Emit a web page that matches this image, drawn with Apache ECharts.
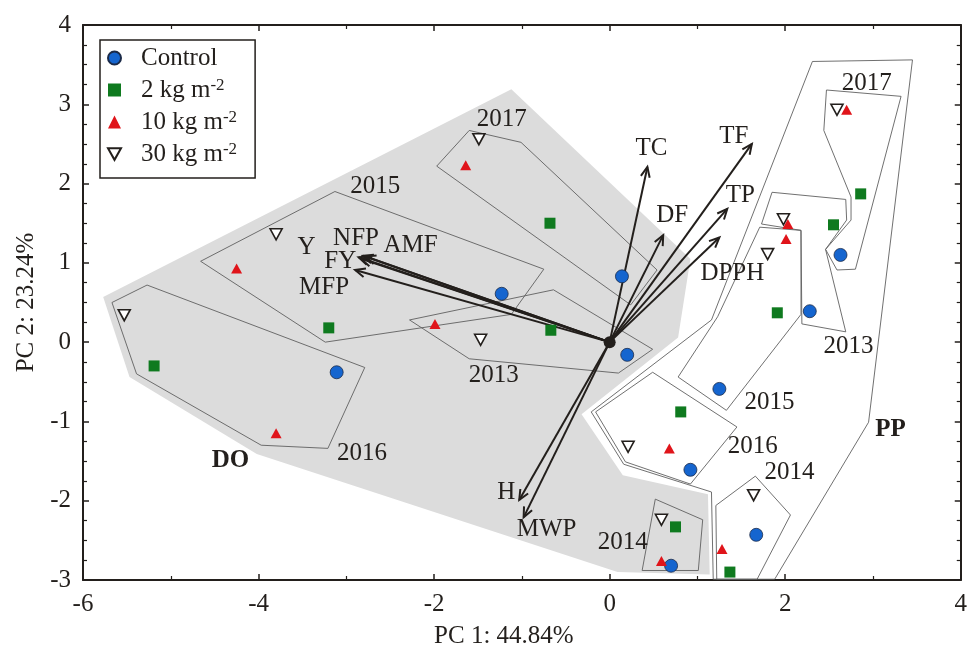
<!DOCTYPE html>
<html>
<head>
<meta charset="utf-8">
<script src="https://cdn.jsdelivr.net/npm/echarts@6/dist/echarts.min.js"></script>
<style>
  html, body { margin: 0; padding: 0; background: #fff; }
  #chart { width: 970px; height: 658px; }
</style>
</head>
<body>
<div id="chart"></div>
<script>
// PCA scores, one list per compost dose
const controlPts = [[0.14, 0.83], [-1.23, 0.61], [0.20, -0.16], [-3.11, -0.38], [2.28, 0.39],
  [2.63, 1.10], [1.25, -0.59], [0.92, -1.61], [1.67, -2.43], [0.70, -2.82]]
const dose2Pts = [[-0.68, 1.50], [-0.67, 0.15], [-3.20, 0.18], [-5.19, -0.30], [2.86, 1.87],
  [2.55, 1.48], [1.91, 0.37], [0.81, -0.88], [0.75, -2.33], [1.37, -2.90]]
const dose10Pts = [[-1.64, 2.23], [-4.25, 0.93], [-1.99, 0.23], [-3.80, -1.15], [2.70, 2.93],
  [2.03, 1.49], [2.01, 1.30], [0.68, -1.34], [0.59, -2.76], [1.28, -2.61]]
const dose30Pts = [[-1.49, 2.56], [-3.80, 1.36], [-5.53, 0.34], [-1.47, 0.03], [2.59, 2.93],
  [1.98, 1.55], [1.80, 1.11], [0.21, -1.32], [0.59, -2.24], [1.64, -1.93]]

// loadings (variable vectors)
const loadNames = ['TC', 'DF', 'TF', 'TP', 'DPPH', 'Y', 'NFP', 'AMF', 'FY', 'MFP', 'H', 'MWP']
const loadX = [0.43, 0.61, 1.62, 1.34, 1.25, -2.86, -2.81, -2.78, -2.83, -2.90, -1.03, -0.98]
const loadY = [2.21, 1.35, 2.50, 1.68, 1.32, 1.07, 1.09, 1.08, 1.05, 0.91, -1.99, -2.21]

// hulls
const hullDO = [[-5.77, 0.57], [-1.12, 3.19], [0.92, 1.05], [0.78, 0.06], [-0.32, -0.91], [0.15, -1.68],
  [1.12, -1.92], [1.14, -2.93], [0.09, -2.90], [-4.02, -1.41], [-5.47, -0.44]]
const hullPP = [[2.31, 3.54], [3.45, 3.56], [2.95, -1.01], [1.88, -2.99], [1.18, -2.99], [1.16, -1.89],
  [0.16, -1.54], [-0.21, -0.88], [1.16, 0.28]]
const yearHulls = [
  [[-1.60, 2.67], [-1.01, 2.52], [0.54, 0.91], [0.24, 0.47], [-1.97, 2.22]],
  [[-3.13, 1.90], [-0.75, 0.92], [-1.12, 0.35], [-3.24, 0.0], [-4.66, 1.02]],
  [[-2.28, 0.28], [-0.64, 0.66], [0.49, -0.09], [0.10, -0.39], [-1.60, -0.21]],
  [[-5.27, 0.72], [-2.79, -0.32], [-3.21, -1.34], [-3.97, -1.30], [-5.39, -0.40], [-5.67, 0.50]],
  [[0.52, -1.98], [1.06, -2.24], [1.01, -2.88], [0.37, -2.88]],
  [[0.49, -0.38], [1.45, -1.07], [0.92, -1.79], [0.18, -1.51], [-0.16, -0.88]],
  [[1.66, -1.69], [2.06, -2.18], [1.68, -2.99], [1.22, -2.99], [1.21, -2.06]],
  [[1.71, 1.45], [2.18, 1.41], [2.18, 0.35], [1.33, -0.86], [0.78, -0.44], [1.23, 0.32]],
  [[1.85, 1.89], [2.69, 1.80], [2.70, 1.54], [2.46, 1.17], [2.69, 0.13], [2.19, 0.23], [2.18, 1.41], [1.73, 1.49]],
  [[2.47, 3.18], [3.32, 3.10], [2.80, 0.92], [2.59, 0.91], [2.46, 1.17], [2.75, 1.54], [2.75, 1.83], [2.44, 2.67]]
]

// group labels
const groupText = ['2017', '2015', '2013', '2016', '2014', 'DO', '2017', '2013', '2015', '2016', '2014', 'PP']
const groupX = [-1.23, -2.67, -1.32, -2.82, 0.15, -4.32, 2.93, 2.72, 1.82, 1.63, 2.05, 3.20]
const groupY = [2.81, 1.97, -0.42, -1.41, -2.52, -1.49, 3.26, -0.06, -0.76, -1.32, -1.64, -1.10]

const FONT = '"Liberation Serif", "Times New Roman", serif'
const FS = 25
const INK = '#231f1c'
const HULL_LINE = '#606060'
// label offset from arrow tip, px
const loadLabelOffset = {
  TC: [4, -18], DF: [9, -20], TF: [-18, -7], TP: [13, -14], DPPH: [13, 36],
  Y: [-52, -10], NFP: [-7, -17], AMF: [45, -11], FY: [-21, 3], MFP: [-31, 17],
  H: [-13, -7], MWP: [23, 12]
}

const myChart = echarts.init(document.getElementById('chart'))

function polyItem(pts, api, style) {
  return {
    type: 'polygon',
    shape: { points: pts.map(p => api.coord(p)) },
    style: style
  }
}

const xAxisBase = {
  type: 'value', min: -6, max: 4, interval: 2,
  axisLine: { onZero: false, lineStyle: { color: INK, width: 2 } },
  axisTick: { inside: true, length: 6, lineStyle: { color: INK, width: 1.5 } },
  minorTick: { show: true, splitNumber: 2, length: 4, lineStyle: { color: INK, width: 1.2 } },
  splitLine: { show: false }
}
const yAxisBase = {
  type: 'value', min: -3, max: 4, interval: 1,
  axisLine: { onZero: false, lineStyle: { color: INK, width: 2 } },
  axisTick: { inside: true, length: 6, lineStyle: { color: INK, width: 1.5 } },
  minorTick: { show: true, splitNumber: 4, length: 4, lineStyle: { color: INK, width: 1.2 } },
  splitLine: { show: false }
}

const option = {
  animation: false,
  backgroundColor: '#fff',
  grid: { left: 83, right: 2, top: 25, bottom: 78 },
  legend: {
    left: 100, top: 40,
    orient: 'vertical',
    backgroundColor: '#fff',
    borderColor: INK, borderWidth: 1.5,
    padding: [5, 18, 11, 7],
    itemWidth: 13, itemHeight: 13, itemGap: 6,
    data: ['Control', '2 kg m-2', '10 kg m-2', '30 kg m-2'],
    formatter: name => name.replace('m-2', 'm{sup|-2}'),
    textStyle: {
      fontFamily: FONT, fontSize: FS, color: INK, lineHeight: 26, padding: [0, 0, 0, 15],
      rich: { sup: { fontFamily: FONT, fontSize: 17, color: INK, verticalAlign: 'top', lineHeight: 26, padding: [0, 0, 9, 0] } }
    }
  },
  xAxis: [
    Object.assign({}, xAxisBase, {
      position: 'bottom',
      name: 'PC 1: 44.84%', nameLocation: 'middle', nameGap: 44,
      nameTextStyle: { fontFamily: FONT, fontSize: FS, color: INK, padding: [0, 36, 0, 0] },
      axisLabel: { fontFamily: FONT, fontSize: FS, color: INK, margin: 12 }
    }),
    Object.assign({}, xAxisBase, { position: 'top', axisLabel: { show: false } })
  ],
  yAxis: [
    Object.assign({}, yAxisBase, {
      position: 'left',
      name: 'PC 2: 23.24%', nameLocation: 'middle', nameGap: 43,
      nameTextStyle: { fontFamily: FONT, fontSize: FS, color: INK },
      axisLabel: { fontFamily: FONT, fontSize: FS, color: INK, margin: 12 }
    }),
    Object.assign({}, yAxisBase, { position: 'right', axisLabel: { show: false } })
  ],
  series: [
    {
      // shaded DO hull + PP outline
      type: 'custom', z: 1, silent: true, clip: true,
      data: [[0]],
      renderItem: (params, api) => ({
        type: 'group',
        children: [
          polyItem(hullDO, api, { fill: '#dcdcdc', stroke: null }),
          polyItem(hullPP, api, { fill: 'rgba(255,255,255,0)', stroke: HULL_LINE, lineWidth: 0.9 })
        ]
      })
    },
    {
      // year hulls
      type: 'custom', z: 2, silent: true,
      data: yearHulls.map((h, i) => [i]),
      renderItem: (params, api) => polyItem(yearHulls[params.dataIndex], api,
        { fill: 'rgba(255,255,255,0)', stroke: HULL_LINE, lineWidth: 0.9 })
    },
    {
      // group labels
      type: 'custom', z: 3, silent: true,
      data: groupText.map((t, i) => [groupX[i], groupY[i]]),
      renderItem: (params, api) => {
        const p = api.coord([api.value(0), api.value(1)])
        const txt = groupText[params.dataIndex]
        const bold = txt === 'DO' || txt === 'PP'
        return {
          type: 'text',
          x: p[0], y: p[1],
          style: {
            text: txt, fill: INK, font: (bold ? 'bold ' : '') + FS + 'px ' + FONT,
            align: 'center', verticalAlign: 'middle'
          }
        }
      }
    },
    {
      // loading vectors
      type: 'custom', z: 4, silent: true,
      data: loadNames.map((n, i) => [loadX[i], loadY[i]]),
      renderItem: (params, api) => {
        const o = api.coord([0, 0])
        const t = api.coord([api.value(0), api.value(1)])
        const ang = Math.atan2(t[1] - o[1], t[0] - o[0])
        const hl = 11, ha = 0.42
        const h1 = [t[0] - hl * Math.cos(ang - ha), t[1] - hl * Math.sin(ang - ha)]
        const h2 = [t[0] - hl * Math.cos(ang + ha), t[1] - hl * Math.sin(ang + ha)]
        const name = loadNames[params.dataIndex]
        const off = loadLabelOffset[name]
        return {
          type: 'group',
          children: [
            { type: 'line', shape: { x1: o[0], y1: o[1], x2: t[0], y2: t[1] }, style: { stroke: INK, lineWidth: 2 } },
            { type: 'polyline', shape: { points: [h1, t, h2] }, style: { stroke: INK, lineWidth: 2, fill: null } },
            {
              type: 'text', x: t[0] + off[0], y: t[1] + off[1],
              style: { text: name, fill: INK, font: FS + 'px ' + FONT, align: 'center', verticalAlign: 'middle' }
            }
          ]
        }
      }
    },
    {
      name: 'Control', type: 'scatter', z: 5, symbol: 'circle', symbolSize: 13,
      itemStyle: { color: '#1565cf', borderColor: '#1b2a48', borderWidth: 0.8, opacity: 1 },
      data: controlPts
    },
    {
      name: '2 kg m-2', type: 'scatter', z: 5, symbol: 'rect', symbolSize: 11,
      itemStyle: { color: '#0f7a1f', opacity: 1 },
      data: dose2Pts
    },
    {
      name: '10 kg m-2', type: 'scatter', z: 5, symbol: 'triangle', symbolSize: [11, 10],
      itemStyle: { color: '#e0141a', opacity: 1 },
      data: dose10Pts
    },
    {
      name: '30 kg m-2', type: 'scatter', z: 5, symbol: 'path://M0,0 L10,0 L5,9 Z', symbolSize: [12, 11],
      itemStyle: { color: '#fff', borderColor: INK, borderWidth: 1.6, opacity: 1 },
      data: dose30Pts
    },
    {
      type: 'scatter', z: 6, symbol: 'circle', symbolSize: 12, silent: true,
      itemStyle: { color: INK, opacity: 1 },
      data: [[0, 0]]
    }
  ]
}

myChart.setOption(option)
window.addEventListener('resize', () => myChart.resize())
</script>
</body>
</html>
